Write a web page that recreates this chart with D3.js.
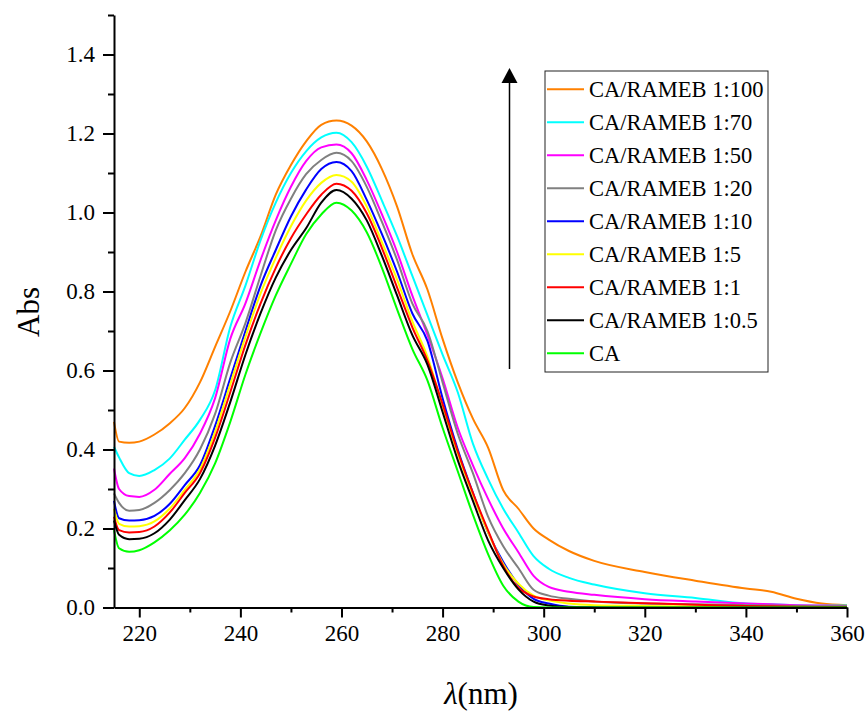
<!doctype html>
<html lang="en">
  <head>
    <meta charset="utf-8">
    <title>Abs vs wavelength</title>
    <style>
      body { margin: 0; background: #fff; }
      text { font-family: "Liberation Serif", "DejaVu Serif", serif; fill: #000; }
    </style>
  </head>
  <body>
    <div id="main-chart"></div>

    <script src="https://d3js.org/d3.v7.min.js"></script>
    <script>
      // Data
      var wavelength = [215, 216, 218, 220, 223, 226, 229, 232, 235, 238, 241, 244, 247, 250, 253, 256, 259, 262, 265, 268,
                        271, 274, 277, 280, 283, 286, 289, 292, 295, 298, 301, 305, 310, 320, 330, 340, 345, 350, 355, 360];

      var ratio100 = [0.47, 0.42, 0.417, 0.42, 0.438, 0.466, 0.505, 0.57, 0.66, 0.75, 0.85, 0.94, 1.045, 1.12, 1.18, 1.222, 1.233, 1.22, 1.18, 1.11,
                      1.015, 0.895, 0.805, 0.68, 0.57, 0.478, 0.405, 0.297, 0.25, 0.2, 0.172, 0.143, 0.118, 0.09, 0.068, 0.048, 0.04, 0.022, 0.01, 0.006];
      var ratio70 = [0.407, 0.38, 0.34, 0.333, 0.348, 0.377, 0.425, 0.475, 0.55, 0.71, 0.815, 0.93, 1.025, 1.1, 1.155, 1.19, 1.202, 1.178, 1.116, 1.03,
                     0.94, 0.84, 0.74, 0.64, 0.545, 0.415, 0.325, 0.25, 0.19, 0.13, 0.098, 0.075, 0.058, 0.036, 0.024, 0.01, 0.008, 0.006, 0.005, 0.005];
      var ratio50 = [0.352, 0.3, 0.282, 0.28, 0.298, 0.338, 0.378, 0.44, 0.53, 0.68, 0.77, 0.88, 0.98, 1.065, 1.13, 1.165, 1.172, 1.15, 1.082, 0.995,
                     0.9, 0.79, 0.69, 0.58, 0.455, 0.36, 0.275, 0.2, 0.14, 0.08, 0.052, 0.04, 0.032, 0.021, 0.015, 0.01, 0.008, 0.006, 0.005, 0.004];
      var ratio20 = [0.289, 0.265, 0.245, 0.247, 0.265, 0.297, 0.34, 0.4, 0.49, 0.62, 0.72, 0.84, 0.955, 1.035, 1.097, 1.133, 1.151, 1.13, 1.065, 0.976,
                     0.88, 0.77, 0.7, 0.57, 0.44, 0.34, 0.23, 0.155, 0.1, 0.045, 0.03, 0.022, 0.015, 0.01, 0.008, 0.006, 0.005, 0.004, 0.003, 0.003];
      var ratio10 = [0.27, 0.226, 0.22, 0.221, 0.232, 0.262, 0.31, 0.36, 0.46, 0.58, 0.7, 0.815, 0.905, 0.99, 1.058, 1.11, 1.128, 1.105, 1.032, 0.945,
                     0.85, 0.745, 0.675, 0.53, 0.4, 0.29, 0.19, 0.115, 0.058, 0.022, 0.01, 0.002, 0.001, 0, 0, 0, 0, 0, 0, 0];
      var ratio5 = [0.25, 0.212, 0.205, 0.206, 0.218, 0.25, 0.298, 0.35, 0.445, 0.565, 0.685, 0.795, 0.885, 0.965, 1.03, 1.075, 1.095, 1.078, 1.015, 0.925,
                    0.83, 0.725, 0.635, 0.51, 0.39, 0.285, 0.19, 0.11, 0.06, 0.03, 0.018, 0.01, 0.006, 0.004, 0.003, 0.002, 0.001, 0.001, 0.001, 0.001];
      var ratio1 = [0.23, 0.196, 0.19, 0.191, 0.205, 0.24, 0.29, 0.34, 0.43, 0.545, 0.665, 0.77, 0.86, 0.935, 0.995, 1.045, 1.073, 1.055, 0.998, 0.91,
                    0.81, 0.71, 0.625, 0.515, 0.395, 0.29, 0.195, 0.105, 0.05, 0.028, 0.021, 0.017, 0.015, 0.011, 0.007, 0.004, 0.003, 0.002, 0.001, 0.001];
      var ratio05 = [0.22, 0.184, 0.173, 0.174, 0.188, 0.222, 0.272, 0.325, 0.41, 0.52, 0.64, 0.745, 0.835, 0.905, 0.96, 1.025, 1.057, 1.035, 0.98, 0.89,
                     0.79, 0.69, 0.615, 0.495, 0.373, 0.27, 0.17, 0.1, 0.046, 0.015, 0.005, 0.001, 0, 0, 0, 0, 0, 0, 0, 0];
      var caOnly = [0.196, 0.15, 0.141, 0.145, 0.165, 0.195, 0.235, 0.29, 0.365, 0.47, 0.59, 0.695, 0.79, 0.87, 0.945, 0.995, 1.025, 1.005, 0.95, 0.86,
                    0.755, 0.655, 0.575, 0.455, 0.345, 0.235, 0.135, 0.055, 0.015, 0.001, 0, 0, 0, 0, 0, 0, 0, 0, 0, 0];

      var seriesNames = ["CA/RAMEB 1:100", "CA/RAMEB 1:70", "CA/RAMEB 1:50", "CA/RAMEB 1:20", "CA/RAMEB 1:10",
                         "CA/RAMEB 1:5", "CA/RAMEB 1:1", "CA/RAMEB 1:0.5", "CA"];
      var seriesValues = [ratio100, ratio70, ratio50, ratio20, ratio10, ratio5, ratio1, ratio05, caOnly];
      var seriesColors = ["#ff8000", "#00ffff", "#ff00ff", "#808080", "#0000ff", "#ffff00", "#ff0000", "#000000", "#00ff00"];

      var xMajor = [220, 240, 260, 280, 300, 320, 340, 360];
      var xMinor = [230, 250, 270, 290, 310, 330, 350];
      var yMajor = [0.0, 0.2, 0.4, 0.6, 0.8, 1.0, 1.2, 1.4];
      var yMinor = [0.1, 0.3, 0.5, 0.7, 0.9, 1.1, 1.3, 1.5];

      // Set params
      var W = 867, H = 713;
      var plotLeft = 114, plotRight = 847, plotTop = 15, plotBottom = 607.5;

      var svg = d3.select("#main-chart")
        .append("svg")
        .attr("width", W)
        .attr("height", H);

      // Scales
      var x = d3.scaleLinear().domain([215, 360]).range([plotLeft, plotRight]);
      var y = d3.scaleLinear().domain([0, 1.5]).range([plotBottom, plotTop]);

      // Curves
      var line = d3.line()
        .x(function(d) { return x(d[0]); })
        .y(function(d) { return y(d[1]); })
        .curve(d3.curveMonotoneX);

      seriesValues.forEach(function(vals, i) {
        var pts = wavelength.map(function(w, j) { return [w, vals[j]]; });
        svg.append("path")
          .attr("d", line(pts))
          .attr("fill", "none")
          .attr("stroke", seriesColors[i])
          .attr("stroke-width", 2)
          .attr("stroke-linejoin", "round");
      });

      // X axis
      var xAxis = svg.append("g").attr("transform", "translate(0," + plotBottom + ")");
      xAxis.call(d3.axisBottom(x).tickValues(xMajor).tickSize(10).tickSizeOuter(0).tickPadding(7)
        .tickFormat(d3.format("d")));
      xAxis.append("g").call(d3.axisBottom(x).tickValues(xMinor).tickSize(5).tickSizeOuter(0).tickFormat(""))
        .select(".domain").remove();

      // Y axis
      var yAxis = svg.append("g").attr("transform", "translate(" + plotLeft + ",0)");
      yAxis.call(d3.axisLeft(y).tickValues(yMajor).tickSize(11).tickSizeOuter(0).tickPadding(8)
        .tickFormat(d3.format(".1f")));
      yAxis.append("g").call(d3.axisLeft(y).tickValues(yMinor).tickSize(6).tickSizeOuter(0).tickFormat(""))
        .select(".domain").remove();

      svg.selectAll(".domain").attr("stroke", "#000").attr("stroke-width", 2);
      svg.selectAll(".tick line").attr("stroke", "#000").attr("stroke-width", 2);
      svg.selectAll(".tick text")
        .attr("font-family", "Liberation Serif")
        .attr("font-size", "23px")
        .attr("fill", "#000");

      // Axis titles
      svg.append("text")
        .attr("transform", "translate(39,312) rotate(-90)")
        .attr("text-anchor", "middle")
        .attr("font-size", "31px")
        .text("Abs");

      var xt = svg.append("text")
        .attr("x", 481)
        .attr("y", 704)
        .attr("text-anchor", "middle")
        .attr("font-size", "31px");
      xt.append("tspan").attr("font-style", "italic").text("λ");
      xt.append("tspan").text("(nm)");

      // Arrow
      svg.append("line")
        .attr("x1", 509.5).attr("y1", 369)
        .attr("x2", 509.5).attr("y2", 80)
        .attr("stroke", "#000")
        .attr("stroke-width", 1.5);
      svg.append("path")
        .attr("d", "M509.5,68 L501.5,83 L517.5,83 Z")
        .attr("fill", "#000");

      // Legend
      var lg = svg.append("g");
      lg.append("rect")
        .attr("x", 545).attr("y", 71)
        .attr("width", 223).attr("height", 301)
        .attr("fill", "#fff")
        .attr("stroke", "#222")
        .attr("stroke-width", 1);

      seriesNames.forEach(function(name, i) {
        var cy = 89.3 + i * 33;
        lg.append("line")
          .attr("x1", 547).attr("x2", 584)
          .attr("y1", cy).attr("y2", cy)
          .attr("stroke", seriesColors[i])
          .attr("stroke-width", 2);
        lg.append("text")
          .attr("x", 589)
          .attr("y", cy + 7.5)
          .attr("font-size", "22.5px")
          .text(name);
      });
    </script>
  </body>
</html>
